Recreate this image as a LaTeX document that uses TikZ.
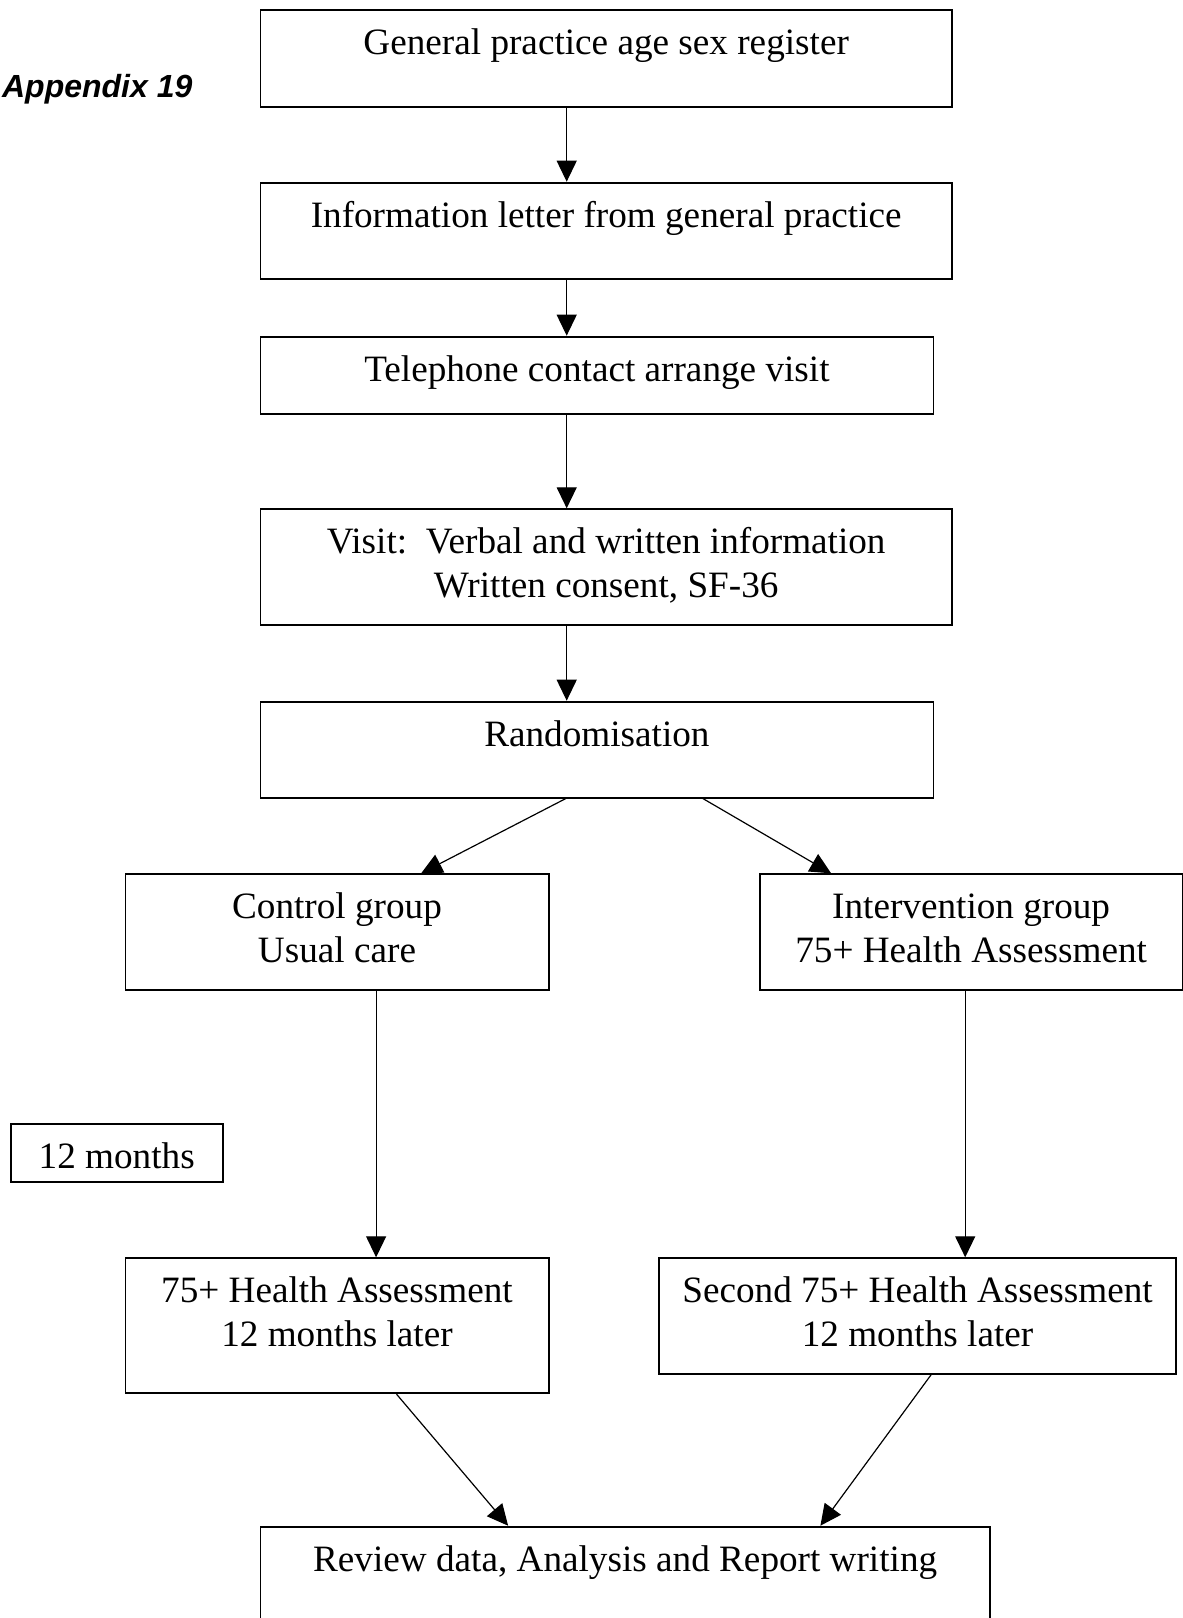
\documentclass[tikz,border=0pt]{standalone}
\usepackage{fontspec}
\setmainfont{Liberation Serif}
\newfontfamily\labelfont{Liberation Sans}
\usetikzlibrary{arrows.meta,calc}
\tikzset{
  >={Triangle[length=10.5pt,width=10pt]},
  flowbox/.style={
    rectangle, draw=black, line width=0.9pt, inner sep=0pt,
    anchor=north west
  },
  boxtext/.style={
    font=\fontsize{18.6}{21.65}\selectfont, align=center,
    inner sep=0pt, anchor=north
  },
  arrow/.style={->, line width=0.6pt, draw=black},
  appendix/.style={
    font=\labelfont\bfseries\itshape\fontsize{16}{19}\selectfont,
    inner sep=0pt, anchor=base west
  }
}
% box: name, left, top, width, height (in px), text
\newcommand{\flowbox}[6]{
  \node[flowbox, minimum width={#4*0.5pt}, minimum height={#5*0.5pt}] (#1) at (#2,#3) {};
  \node[boxtext] (#1-text) at ($(#1.north)+(0,14.7)$) {\strut #6};
}

\begin{document}
\begin{tikzpicture}[x=0.5pt,y=-0.5pt]
\useasboundingbox (0,0) rectangle (1183,1618);
\node[appendix] (title) at (1.7,97.5) {Appendix 19};
\flowbox{register}{259.5}{9.3}{691.5}{96.4}{General practice age sex register}
\flowbox{letter}{259.5}{181.7}{691.5}{96.6}{Information letter from general practice}
\flowbox{phone}{259.5}{335.7}{673}{77}{Telephone contact arrange visit}
\flowbox{visit}{259.5}{508.3}{691.5}{115.7}{Visit:\ \ Verbal and written information\\Written consent, SF-36}
\flowbox{random}{259.5}{700.7}{673}{96}{Randomisation}
\flowbox{control}{124.5}{873.3}{423.2}{116}{Control group\\Usual care}
\flowbox{interv}{759}{873.3}{422.5}{116}{Intervention group\\75+ Health Assessment}
\flowbox{months}{9.8}{1122.7}{212}{58.3}{12 months}
\flowbox{followup}{124.5}{1257.3}{423.2}{135}{75+ Health Assessment\\12 months later}
\flowbox{second}{657.9}{1257.3}{517.5}{115.7}{Second 75+ Health Assessment\\12 months later}
\flowbox{review}{259.5}{1525.7}{729.5}{120}{Review data, Analysis and Report writing}
% main column
\coordinate (spine) at (566.7,0);
\draw[arrow] (register.south -| spine) -- (letter.north -| spine);
\draw[arrow] (letter.south -| spine) -- (phone.north -| spine);
\draw[arrow] (phone.south -| spine) -- (visit.north -| spine);
\draw[arrow] (visit.south -| spine) -- (random.north -| spine);
% split into the two groups
\draw[arrow] ($(random.south west)!0.454!(random.south east)$) -- ($(control.north west)!0.698!(control.north east)$);
\draw[arrow] ($(random.south west)!0.657!(random.south east)$) -- ($(interv.north west)!0.170!(interv.north east)$);
\coordinate (cdrop) at ($(control.south west)!0.592!(control.south east)$);
\coordinate (idrop) at ($(interv.south west)!0.486!(interv.south east)$);
\draw[arrow] (cdrop) -- (cdrop |- followup.north);
\draw[arrow] (idrop) -- (idrop |- second.north);
% join again
\draw[arrow] ($(followup.south west)!0.64!(followup.south east)$) -- ($(review.north west)!0.340!(review.north east)$);
\draw[arrow] ($(second.south west)!0.526!(second.south east)$) -- ($(review.north west)!0.767!(review.north east)$);
\end{tikzpicture}
\end{document}
